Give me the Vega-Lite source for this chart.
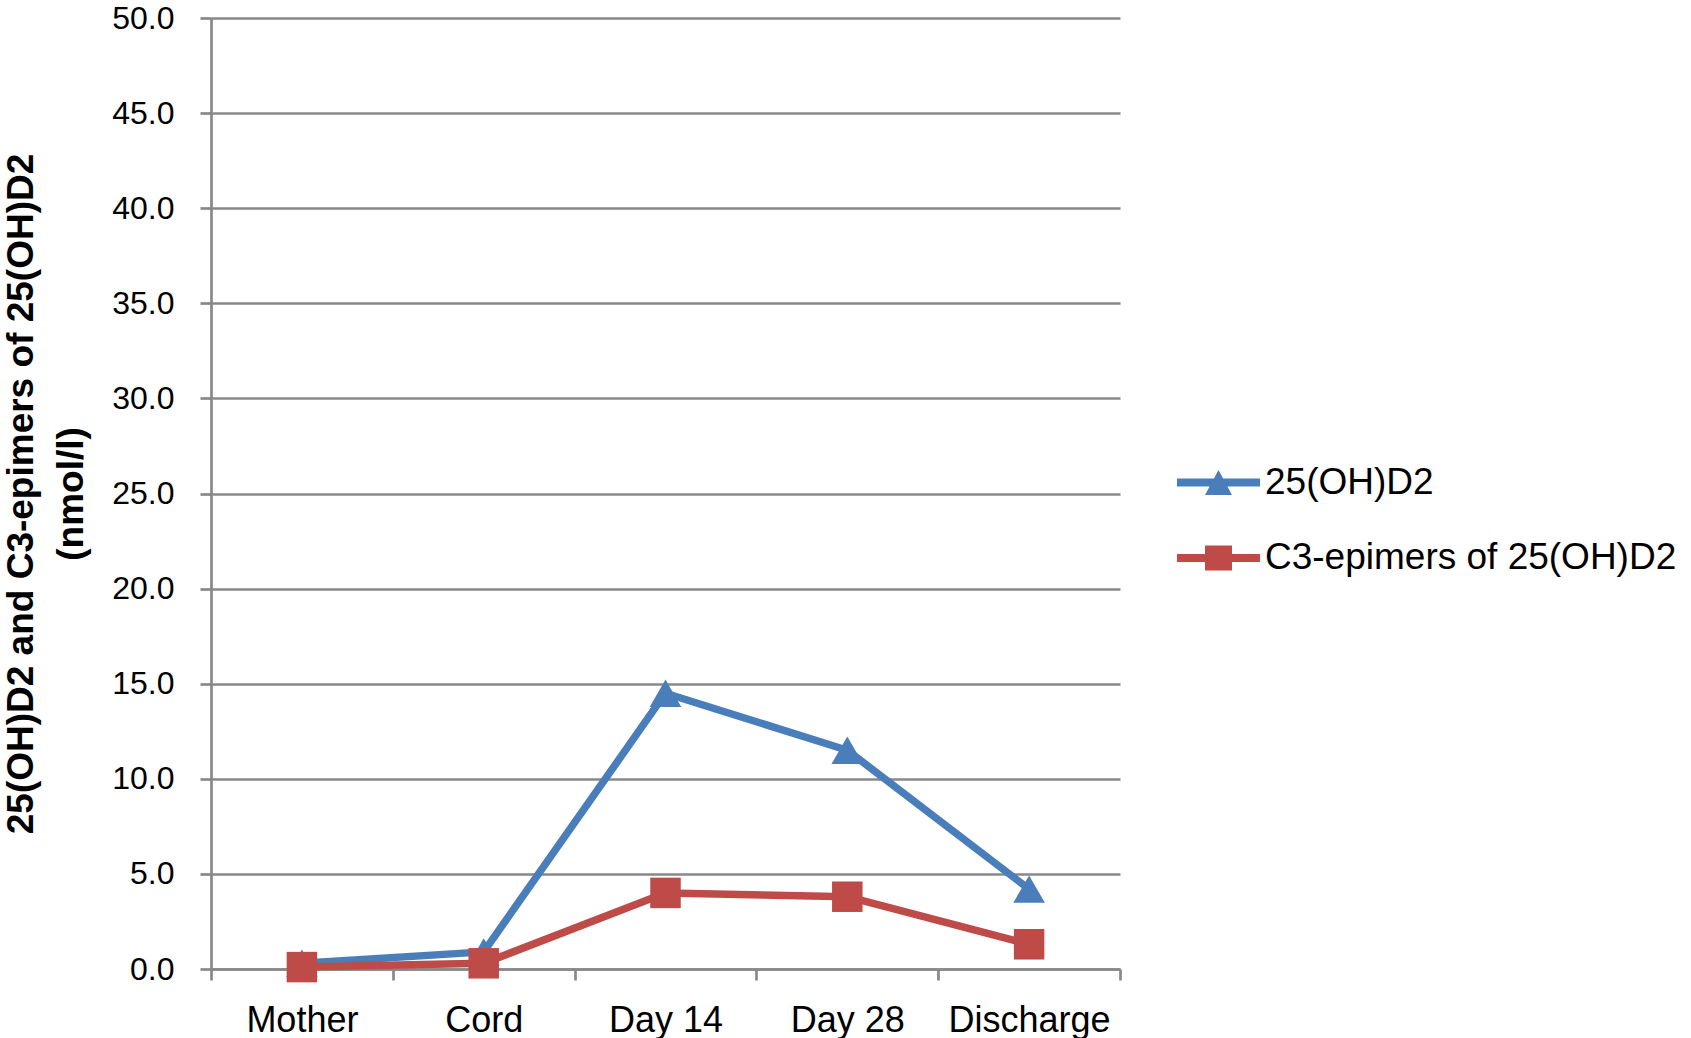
{
  "$schema": "https://vega.github.io/schema/vega-lite/v6.json",
  "autosize": "none",
  "width": 909,
  "height": 951,
  "padding": {"left": 211, "top": 18, "right": 571, "bottom": 69},
  "background": "white",
  "config": {
    "view": {"stroke": null},
    "font": "Liberation Sans",
    "legend": {
      "padding": 0,
      "orient": "none",
      "symbolSize": 900,
      "labelFontSize": 37,
      "labelColor": "black",
      "labelOffset": 28,
      "labelLimit": 600,
      "symbolOpacity": 1,
      "symbolStrokeWidth": 0
    }
  },
  "data": {
    "values": [
      {"stage": "Mother", "series": "25(OH)D2", "value": 0.3},
      {"stage": "Cord", "series": "25(OH)D2", "value": 0.9},
      {"stage": "Day 14", "series": "25(OH)D2", "value": 14.5},
      {"stage": "Day 28", "series": "25(OH)D2", "value": 11.5},
      {"stage": "Discharge", "series": "25(OH)D2", "value": 4.2},
      {"stage": "Mother", "series": "C3-epimers of 25(OH)D2", "value": 0.1},
      {"stage": "Cord", "series": "C3-epimers of 25(OH)D2", "value": 0.3},
      {"stage": "Day 14", "series": "C3-epimers of 25(OH)D2", "value": 4.0},
      {"stage": "Day 28", "series": "C3-epimers of 25(OH)D2", "value": 3.8},
      {"stage": "Discharge", "series": "C3-epimers of 25(OH)D2", "value": 1.3}
    ]
  },
  "encoding": {
    "x": {
      "field": "stage",
      "type": "nominal",
      "sort": ["Mother", "Cord", "Day 14", "Day 28", "Discharge"],
      "bandPosition": 0.5,
      "scale": {"type": "band", "paddingInner": 0, "paddingOuter": 0},
      "axis": {
        "title": null,
        "grid": false,
        "labelAngle": 0,
        "labelFontSize": 36,
        "labelColor": "black",
        "labelPadding": 23,
        "tickBand": "extent",
        "tickSize": 11,
        "tickColor": "#888888",
        "tickWidth": 2.7,
        "domainColor": "#888888",
        "domainWidth": 2.7
      }
    },
    "y": {
      "field": "value",
      "type": "quantitative",
      "scale": {"domain": [0, 50], "nice": false},
      "axis": {
        "values": [0, 5, 10, 15, 20, 25, 30, 35, 40, 45, 50],
        "format": ".1f",
        "title": ["25(OH)D2 and C3-epimers of 25(OH)D2", "(nmol/l)"],
        "titleFontSize": 37,
        "titleFontWeight": "bold",
        "titleColor": "black",
        "titleLineHeight": 50,
        "titlePadding": 21,
        "labelFontSize": 32,
        "labelColor": "black",
        "labelPadding": 26,
        "tickSize": 11,
        "tickColor": "#888888",
        "tickWidth": 2.7,
        "domainColor": "#888888",
        "domainWidth": 2.7,
        "gridColor": "#888888",
        "gridWidth": 2.7
      }
    }
  },
  "layer": [
    {
      "mark": {"type": "line", "strokeWidth": 7.5, "strokeJoin": "round"},
      "encoding": {
        "color": {
          "field": "series",
          "type": "nominal",
          "scale": {"domain": ["25(OH)D2", "C3-epimers of 25(OH)D2"], "range": ["#4A7EBB", "#BE4B48"]},
          "legend": null
        }
      }
    },
    {
      "transform": [{"filter": "datum.series === '25(OH)D2'"}],
      "mark": {"type": "point", "shape": "triangle-up", "filled": true, "opacity": 1, "size": 1000, "color": "#4A7EBB"},
      "encoding": {}
    },
    {
      "transform": [{"filter": "datum.series !== '25(OH)D2'"}],
      "mark": {"type": "point", "shape": "square", "filled": true, "opacity": 1, "size": 930, "color": "#BE4B48"},
      "encoding": {}
    },
    {
      "transform": [{"filter": "datum.series === '25(OH)D2'"}],
      "mark": {"type": "point", "filled": true, "opacity": 0, "size": 900, "color": "#4A7EBB"},
      "encoding": {
        "shape": {
          "field": "series",
          "type": "nominal",
          "title": null,
          "scale": {
            "domain": ["25(OH)D2"],
            "range": ["M-2.77,-0.27 L2.77,-0.27 L2.77,0.27 L-2.77,0.27 Z M-0.9,0.83 L0,-0.83 L0.9,0.83 Z"]
          },
          "legend": {"legendX": 989, "legendY": 446, "symbolFillColor": "#4A7EBB"}
        }
      }
    },
    {
      "transform": [{"filter": "datum.series !== '25(OH)D2'"}],
      "mark": {"type": "point", "filled": true, "opacity": 0, "size": 900, "color": "#BE4B48"},
      "encoding": {
        "shape": {
          "field": "series",
          "type": "nominal",
          "title": null,
          "scale": {
            "domain": ["C3-epimers of 25(OH)D2"],
            "range": ["M-2.77,-0.27 L2.77,-0.27 L2.77,0.27 L-2.77,0.27 Z M-0.9,-0.83 L0.9,-0.83 L0.9,0.83 L-0.9,0.83 Z"]
          },
          "legend": {"legendX": 989, "legendY": 521.5, "symbolFillColor": "#BE4B48"}
        }
      }
    }
  ],
  "resolve": {"scale": {"shape": "independent"}, "legend": {"shape": "independent"}}
}
